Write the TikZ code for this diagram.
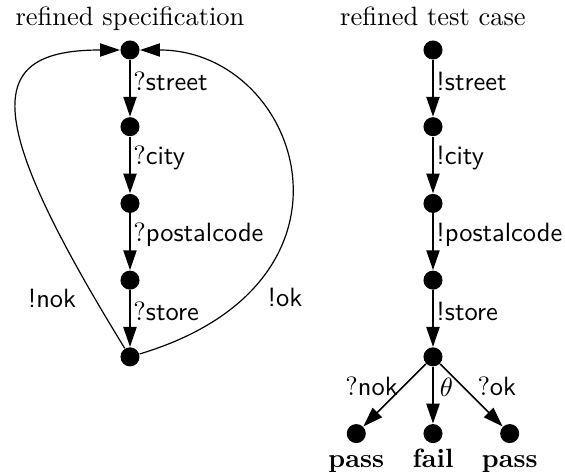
\documentclass[tikz,border=0pt]{standalone}
\usepackage{amsmath,amssymb}
\usepackage{tikz}
\usetikzlibrary{arrows.meta,positioning}

\begin{document}
\begin{tikzpicture}[x=0.378pt, y=-0.378pt, node distance=21.4pt]
\tikzset{
  state/.style={circle, fill=black, inner sep=0pt, minimum size=7.2pt},
  tr/.style={-{Triangle[length=7.5pt,width=5pt]}, line width=0.6pt},
  loop/.style={-{Triangle[length=7.5pt,width=5pt]}, line width=0.45pt},
  lbl/.style={inner sep=1pt},
  ttl/.style={text height=7pt, text depth=2pt}
}
\useasboundingbox (0,0) rectangle (565,472);
% refined specification
\node (s1)[state] at (130,50) {};
\node (s2)[state,below=of s1] {};
\node (s3)[state,below=of s2] {};
\node (s4)[state,below=of s3] {};
\node (s5)[state,below=of s4] {};
\node (hs)[ttl,above=0pt of s1] {refined specification};
\draw[tr](s1)--(s2) node[lbl,right,pos=0.38]{?\textsf{street}};
\draw[tr](s2)--(s3) node[lbl,right,pos=0.38]{?\textsf{city}};
\draw[tr](s3)--(s4) node[lbl,right,pos=0.38]{?\textsf{postalcode}};
\draw[tr](s4)--(s5) node[lbl,right,pos=0.38]{?\textsf{store}};
\draw[loop](s5) .. controls +(-150,-244) and +(-145,0) .. (s1);
\draw[loop](s5) .. controls +(250,-75) and +(170,0) .. (s1);
\node (lnok) at (52,298) {\textsf{!nok}};
\node (lok) at (285,297) {\textsf{!ok}};
% refined test case
\node (t1)[state] at (433,50) {};
\node (t2)[state,below=of t1] {};
\node (t3)[state,below=of t2] {};
\node (t4)[state,below=of t3] {};
\node (t5)[state,below=of t4] {};
\node (t6)[state,below=of t5] {};
\node (t7)[state,left=of t6] {};
\node (t8)[state,right=of t6] {};
\node (ht)[ttl,above=0pt of t1] {refined test case};
\draw[tr](t1)--(t2) node[lbl,right,pos=0.38]{\textsf{!street}};
\draw[tr](t2)--(t3) node[lbl,right,pos=0.38]{\textsf{!city}};
\draw[tr](t3)--(t4) node[lbl,right,pos=0.38]{\textsf{!postalcode}};
\draw[tr](t4)--(t5) node[lbl,right,pos=0.38]{\textsf{!store}};
\draw[tr](t5)--(t7) node[left,pos=0.36,xshift=1.5pt]{?\textsf{nok}};
\draw[tr](t5)--(t6) node[right,pos=0.36,xshift=-1pt]{$\theta$};
\draw[tr](t5)--(t8) node[right,pos=0.36,xshift=2pt]{?\textsf{ok}};
\node (v7)[ttl,below=-1.5pt of t7] {\textbf{pass}};
\node (v6)[ttl,below=-1.5pt of t6] {\textbf{fail}};
\node (v8)[ttl,below=-1.5pt of t8] {\textbf{pass}};
\end{tikzpicture}
\end{document}
